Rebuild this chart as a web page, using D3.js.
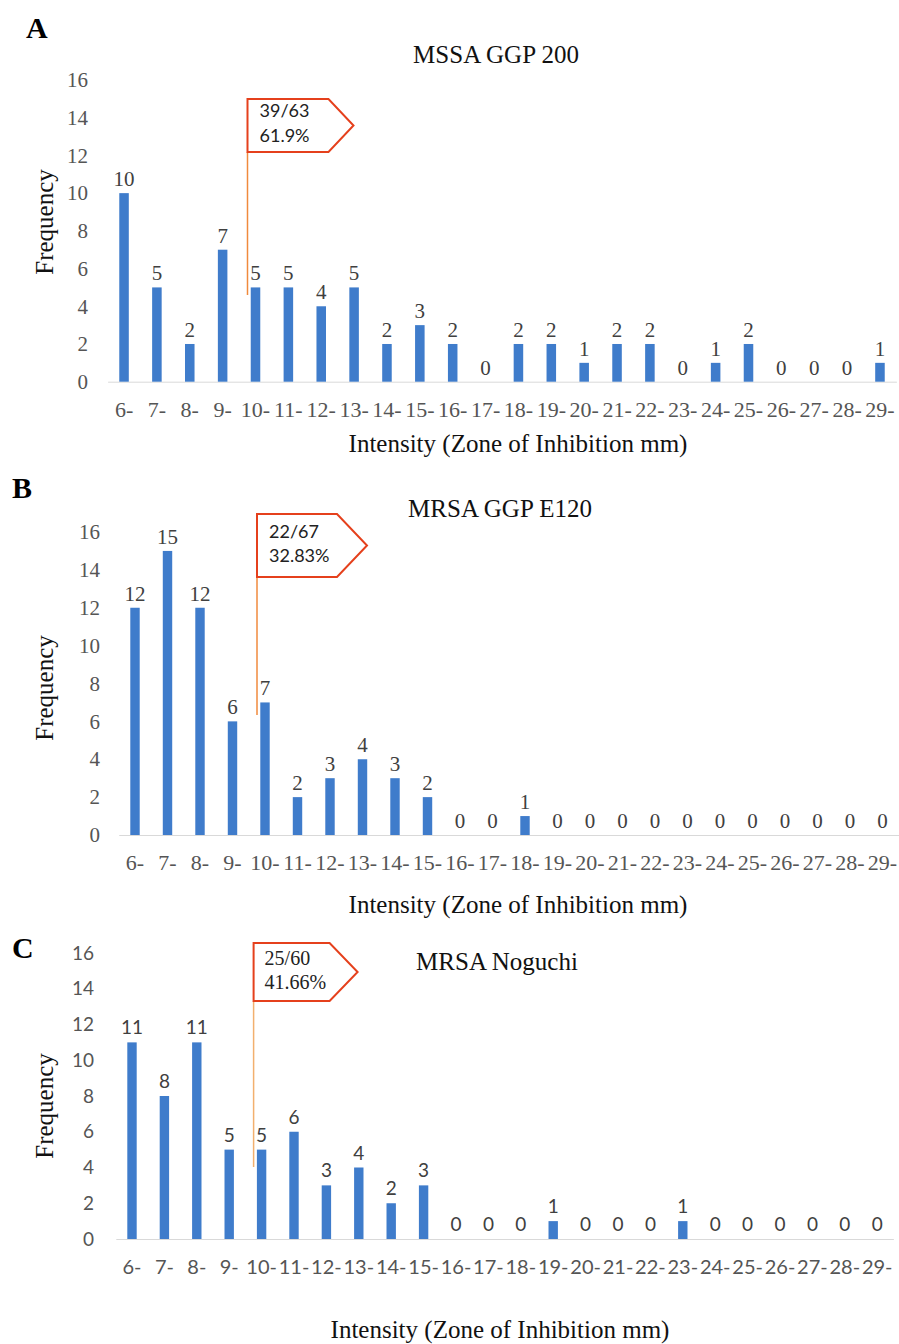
<!DOCTYPE html>
<html>
<head>
<meta charset="utf-8">
<script src="https://cdn.jsdelivr.net/npm/d3@7/dist/d3.min.js"></script>
<style>
  body { margin: 0; background: #fff; }
  svg { display: block; }
</style>
</head>
<body>
<div id="chart"></div>
<script>
// bins of zone of inhibition (mm)
var categories = ['6-','7-','8-','9-','10-','11-','12-','13-','14-','15-','16-','17-',
  '18-','19-','20-','21-','22-','23-','24-','25-','26-','27-','28-','29-'];

var mssaGGP200  = [10,5,2,7,5,5,4,5,2,3,2,0,2,2,1,2,2,0,1,2,0,0,0,1];
var mrsaGGPE120 = [12,15,12,6,7,2,3,4,3,2,0,0,1,0,0,0,0,0,0,0,0,0,0,0];
var mrsaNoguchi = [11,8,11,5,5,6,3,4,2,3,0,0,0,1,0,0,0,1,0,0,0,0,0,0];

var panelLetters = ['A','B','C'];
var panelTitles = ['MSSA GGP 200','MRSA GGP E120','MRSA Noguchi'];
var calloutText = [['39/63','61.9%'],['22/67','32.83%'],['25/60','41.66%']];
var calloutBin = '10-';
var yTicks = [0,2,4,6,8,10,12,14,16];

var SERIF = '"Liberation Serif", "Times New Roman", serif';
var SANS = 'Lato, "Open Sans", sans-serif';

// page layout for each panel
var layouts = [
  { values: mssaGGP200, left: 107.6, right: 896.4, y0: 381.7, yTop: 80,
    tickRight: 88, letterY: 38, titleX: 496, titleY: 63,
    axisTitleX: 518, axisTitleY: 452, freqY: 222,
    tickFont: SERIF, xTickSize: 22, yTickSize: 21, valSize: 21, valOffset: 7,
    callout: { top: 99, h: 53, w: 81, tip: 25, lineEnd: 295, textY: [117, 142],
      font: SANS, size: 18, lineColor: '#f08a3c' } },
  { values: mrsaGGPE120, left: 118.75, right: 898.75, y0: 835, yTop: 532,
    tickRight: 100, letterY: 498, titleX: 500, titleY: 517,
    axisTitleX: 518, axisTitleY: 913, freqY: 688,
    tickFont: SERIF, xTickSize: 22, yTickSize: 21, valSize: 21, valOffset: 7,
    callout: { top: 514, h: 63, w: 80, tip: 30, lineEnd: 715, textY: [538, 562],
      font: SANS, size: 18, lineColor: '#f08a3c' } },
  { values: mrsaNoguchi, left: 115.8, right: 893.4, y0: 1239, yTop: 953,
    tickRight: 94, letterY: 958, titleX: 497, titleY: 970,
    axisTitleX: 500, axisTitleY: 1338, freqY: 1106,
    tickFont: SANS, xTickSize: 20, yTickSize: 19, valSize: 19, valOffset: 8,
    callout: { top: 943, h: 58, w: 76, tip: 28, lineEnd: 1167, textY: [965, 989],
      font: SERIF, size: 20, lineColor: '#f2b06e' } }
];

var svg = d3.select('#chart').append('svg')
  .attr('width', 899)
  .attr('height', 1344);

layouts.forEach(function(L, i) {
  var g = svg.append('g');

  var x = d3.scaleBand()
    .domain(categories)
    .range([L.left, L.right])
    .paddingInner(0.71)
    .paddingOuter(0.355);

  var y = d3.scaleLinear()
    .domain([0, 16])
    .range([L.y0, L.yTop]);

  // panel letter and title
  g.append('text')
    .attr('x', i === 0 ? 26 : 12)
    .attr('y', L.letterY)
    .style('font-family', SERIF)
    .style('font-weight', 'bold')
    .style('font-size', '30px')
    .text(panelLetters[i]);

  g.append('text')
    .attr('x', L.titleX)
    .attr('y', L.titleY)
    .attr('text-anchor', 'middle')
    .style('font-family', SERIF)
    .style('font-size', '25px')
    .style('fill', '#111')
    .text(panelTitles[i]);

  // y axis (no line, just labels)
  var yAxis = g.append('g')
    .attr('transform', 'translate(' + L.tickRight + ',0)')
    .call(d3.axisLeft(y).tickValues(yTicks).tickSize(0).tickPadding(0));
  yAxis.select('.domain').remove();
  yAxis.selectAll('text')
    .style('font-family', L.tickFont)
    .style('font-size', L.yTickSize + 'px')
    .style('fill', '#555');

  // x axis
  var xAxis = g.append('g')
    .attr('transform', 'translate(0,' + L.y0 + ')')
    .call(d3.axisBottom(x).tickSize(0).tickSizeOuter(0));
  xAxis.select('.domain')
    .attr('stroke', '#d9d9d9')
    .attr('stroke-width', 1);
  xAxis.selectAll('text')
    .attr('dy', null)
    .attr('y', 35)
    .style('font-family', L.tickFont)
    .style('font-size', L.xTickSize + 'px')
    .style('fill', '#555');

  // bars
  g.selectAll('rect.bar')
    .data(L.values)
    .enter()
    .append('rect')
    .attr('class', 'bar')
    .attr('x', function(d, j) { return x(categories[j]); })
    .attr('y', function(d) { return y(d); })
    .attr('width', x.bandwidth())
    .attr('height', function(d) { return L.y0 - y(d); })
    .attr('fill', '#3f7ccb');

  // value labels
  g.selectAll('text.val')
    .data(L.values)
    .enter()
    .append('text')
    .attr('class', 'val')
    .attr('x', function(d, j) { return x(categories[j]) + x.bandwidth() / 2; })
    .attr('y', function(d) { return y(d) - L.valOffset; })
    .attr('text-anchor', 'middle')
    .style('font-family', L.tickFont)
    .style('font-size', L.valSize + 'px')
    .style('fill', '#404040')
    .text(function(d) { return d; });

  // axis titles
  g.append('text')
    .attr('x', L.axisTitleX)
    .attr('y', L.axisTitleY)
    .attr('text-anchor', 'middle')
    .style('font-family', SERIF)
    .style('font-size', '25px')
    .style('fill', '#111')
    .text('Intensity (Zone of Inhibition mm)');

  g.append('text')
    .attr('transform', 'translate(53,' + L.freqY + ') rotate(-90)')
    .attr('text-anchor', 'middle')
    .style('font-family', SERIF)
    .style('font-size', '25px')
    .style('fill', '#111')
    .text('Frequency');

  // callout flag, anchored just left of the 10- bar
  var c = L.callout;
  var cx = x(calloutBin) + x.bandwidth() / 2 - 8;
  var bottom = c.top + c.h;

  g.append('line')
    .attr('x1', cx).attr('x2', cx)
    .attr('y1', bottom).attr('y2', c.lineEnd)
    .attr('stroke', c.lineColor)
    .attr('stroke-width', 1.5);

  var pts = [[cx, c.top], [cx + c.w, c.top], [cx + c.w + c.tip, c.top + c.h / 2],
    [cx + c.w, bottom], [cx, bottom]];
  g.append('polygon')
    .attr('points', pts.map(function(p) { return p.join(','); }).join(' '))
    .attr('fill', '#fff')
    .attr('stroke', '#e5401c')
    .attr('stroke-width', 2);

  g.selectAll('text.call')
    .data(calloutText[i])
    .enter()
    .append('text')
    .attr('class', 'call')
    .attr('x', cx + (i === 2 ? 11 : 12))
    .attr('y', function(d, k) { return c.textY[k]; })
    .style('font-family', c.font)
    .style('font-size', c.size + 'px')
    .style('fill', '#222')
    .text(function(d) { return d; });
});
</script>
</body>
</html>
